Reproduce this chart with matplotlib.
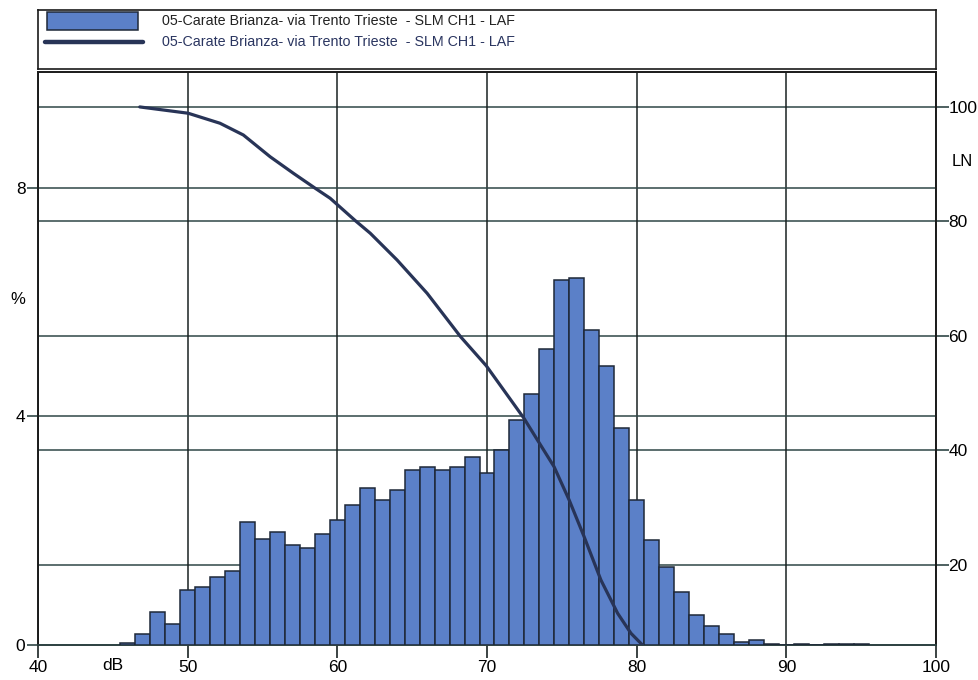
import matplotlib.pyplot as plt
from matplotlib.patches import Rectangle

# histogram: sound level class (dB) and share of time (%)
levels = list(range(46, 96))
percent = [0.03, 0.19, 0.58, 0.36, 0.96, 1.02, 1.19, 1.30, 2.16, 1.86,
           1.97, 1.75, 1.69, 1.95, 2.18, 2.45, 2.74, 2.54, 2.71, 3.06,
           3.12, 3.06, 3.12, 3.29, 3.01, 3.42, 3.93, 4.40, 5.18, 6.39,
           6.43, 5.52, 4.89, 3.79, 2.53, 1.84, 1.37, 0.93, 0.53, 0.33,
           0.20, 0.05, 0.09, 0.02, 0.00, 0.02, 0.00, 0.02, 0.02, 0.02]

# cumulative curve LN (right axis)
ln_db = [46.8, 50.03, 52.16, 53.72, 55.51, 57.07, 58.52, 59.52, 61.20,
         62.20, 63.99, 66.00, 68.23, 69.95, 72.47, 73.37, 74.48,
         75.49, 76.49, 77.61, 78.73, 79.62, 80.40]
ln_val = [100.0, 98.9, 97.15, 95.1, 91.3, 88.4, 85.8, 84.05, 80.14,
          77.94, 73.27, 67.45, 59.88, 54.8, 45.62, 41.83, 37.17,
          31.35, 24.94, 17.38, 11.56, 8.07, 6.0]

x_ticks = [40, 50, 60, 70, 80, 90, 100]
left_ticks = [0, 4, 8]
right_ticks = [20, 40, 60, 80, 100]

label = "05-Carate Brianza- via Trento Trieste  - SLM CH1 - LAF"

BAR_COLOR = "#5b80c8"
EDGE = "#1e2838"
CURVE = "#283457"
HGRID = "#2f4646"
VGRID = "#1a2222"

plt.rcParams["font.family"] = ["Liberation Sans", "DejaVu Sans"]

W, H = 979, 680
fig = plt.figure(figsize=(W / 100, H / 100), dpi=100)

x0, x1, ytop, ybot = 38, 936, 72, 645
ax = fig.add_axes([x0 / W, 1 - ybot / H, (x1 - x0) / W, (ybot - ytop) / H])
axr = ax.twinx()

# right axis drawn first (its grid sits behind the bars)
ax.set_zorder(2)
axr.set_zorder(1)
ax.patch.set_visible(False)
axr.patch.set_visible(True)
axr.patch.set_facecolor("white")

ax.set_xlim(40, 100)
ax.set_ylim(0, 10.03)
axr.set_ylim(6.03, 106.1)

ax.bar(levels, percent, width=1.0, color=BAR_COLOR, edgecolor=EDGE,
       linewidth=1.1, zorder=3)
ax.plot(ln_db, ln_val, color=CURVE, linewidth=2.3, transform=axr.transData,
        zorder=4, solid_capstyle="round", solid_joinstyle="round")

ax.set_xticks(x_ticks)
ax.set_yticks(left_ticks)
axr.set_yticks(right_ticks)

ax.tick_params(axis="x", direction="out", length=9, width=1.2, pad=2,
               labelsize=12.5, color=VGRID)
ax.tick_params(axis="y", direction="out", length=8, width=1.2, pad=1,
               labelsize=12.5, color=HGRID)
axr.tick_params(axis="y", direction="out", length=9, width=1.2, pad=0,
                labelsize=12.5, color=HGRID)

ax.grid(axis="x", color=VGRID, linewidth=1.1)
ax.grid(axis="y", color=HGRID, linewidth=1.1)
ax.set_axisbelow(True)
axr.grid(axis="y", color=HGRID, linewidth=1.1)

for a in (ax, axr):
    for s in a.spines.values():
        s.set_color("#1a1a1a")
        s.set_linewidth(1.2)
ax.spines["bottom"].set_color(HGRID)

fig.text(18 / W, 1 - 300 / H, "%", fontsize=12, ha="center", va="center")
fig.text(962 / W, 1 - 162 / H, "LN", fontsize=12, ha="center", va="center")
fig.text(113 / W, 1 - 666 / H, "dB", fontsize=12.5, ha="center", va="center")

# legend box above the plot
lg = fig.add_axes([x0 / W, 1 - 69 / H, (x1 - x0) / W, 59 / H])
lg.set_xlim(x0, x1)
lg.set_ylim(69, 10)
lg.set_xticks([])
lg.set_yticks([])
for s in lg.spines.values():
    s.set_color("#1a1a1a")
    s.set_linewidth(1.2)
lg.add_patch(Rectangle((47, 12), 91, 18, facecolor=BAR_COLOR,
                       edgecolor=EDGE, linewidth=1.1))
lg.plot([45, 143], [42, 42], color=CURVE, linewidth=3.2,
        solid_capstyle="round")
lg.text(162, 21, label, fontsize=10.3, va="center", ha="left", color="#222222")
lg.text(162, 42, label, fontsize=10.3, va="center", ha="left", color="#2a3560")

fig.savefig("out.png", dpi=100)
